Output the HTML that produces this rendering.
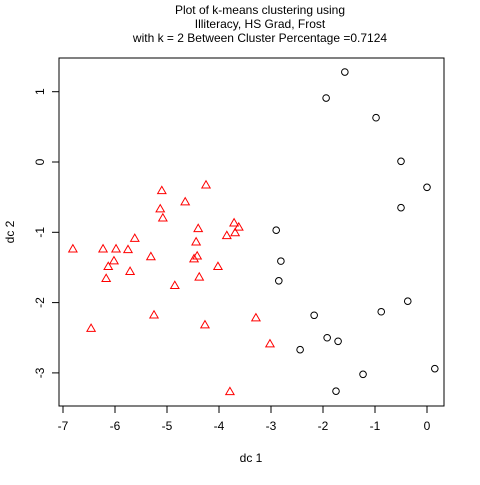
<!DOCTYPE html>
<html><head><meta charset="utf-8"><style>body{margin:0;background:#fff}svg{font-family:"Liberation Sans",sans-serif}</style></head>
<body>
<svg id="c" width="480" height="480">
<text x="260" y="14" font-size="12" text-anchor="middle">Plot of k-means clustering using</text>
<text x="260" y="28" font-size="12" text-anchor="middle">Illiteracy, HS Grad, Frost</text>
<text x="260" y="42" font-size="12" text-anchor="middle">with  k = 2 Between Cluster Percentage =0.7124</text>
<rect x="59" y="58" width="385" height="348" fill="none" stroke="#000"/>
<text x="251" y="462" font-size="12" text-anchor="middle">dc 1</text>
<text x="0" y="0" font-size="12" text-anchor="middle" transform="translate(14,232) rotate(-90)">dc 2</text>
<g id="marks"></g>
</svg>
<script>
const xTicks=[-7,-6,-5,-4,-3,-2,-1,0];
const yTicks=[-3,-2,-1,0,1];
const c1x=[-1.58,-1.94,-0.98,-0.50,0.0,-0.50,-2.90,-2.81,-2.85,-0.37,-2.17,-0.88,-1.92,-1.71,-2.44,-1.23,0.15,-1.75];
const c1y=[1.28,0.91,0.63,0.01,-0.36,-0.65,-0.97,-1.41,-1.69,-1.98,-2.18,-2.13,-2.50,-2.55,-2.67,-3.02,-2.94,-3.26];
const c2x=[-6.81,-6.23,-5.98,-5.75,-5.62,-6.02,-6.13,-6.17,-5.71,-5.31,-5.10,-5.13,-5.08,-4.65,-4.25,-5.25,-6.46,-4.85,-4.40,-4.44,-4.42,-4.48,-4.38,-4.02,-4.27,-3.85,-3.71,-3.69,-3.62,-3.79,-3.29,-3.02];
const c2y=[-1.24,-1.24,-1.24,-1.25,-1.09,-1.41,-1.49,-1.66,-1.56,-1.35,-0.41,-0.67,-0.80,-0.57,-0.33,-2.18,-2.37,-1.76,-0.95,-1.14,-1.34,-1.38,-1.64,-1.49,-2.32,-1.05,-0.87,-1.01,-0.93,-3.27,-2.22,-2.59];
const sx=v=>427+v*52, sy=v=>162-v*70.3;
const svg=document.getElementById('c'), g=document.getElementById('marks'), NS='http://www.w3.org/2000/svg';
function mk(t,a,p){const e=document.createElementNS(NS,t);for(const k in a)e.setAttribute(k,a[k]);(p||g).appendChild(e);return e;}
xTicks.forEach(v=>{
  const l=mk('line',{x1:sx(v),x2:sx(v),y1:406,y2:413,stroke:'#000'});
  
  
  const t=mk('text',{x:sx(v),y:430,'font-size':12,'text-anchor':'middle'});t.textContent=v;
  
  
});
yTicks.forEach(v=>{
  const l=mk('line',{x1:52,x2:59,y1:sy(v),y2:sy(v),stroke:'#000'});
  
  
  const t=mk('text',{x:0,y:0,'font-size':12,'text-anchor':'middle',transform:`translate(44,${sy(v)}) rotate(-90)`});t.textContent=v;
  
  
});
c1x.forEach((x,i)=>{
  const e=mk('circle',{cx:sx(x),cy:sy(c1y[i]),r:3.3,fill:'none',stroke:'#000','stroke-width':1});
  
  
});
c2x.forEach((x,i)=>{
  const X=sx(x),Y=sy(c2y[i]);
  const e=mk('polygon',{points:`${X},${Y-4.5} ${X-4.2},${Y+2.8} ${X+4.2},${Y+2.8}`,fill:'none',stroke:'#f00','stroke-width':1});
  
  
});
</script>
</body></html>
